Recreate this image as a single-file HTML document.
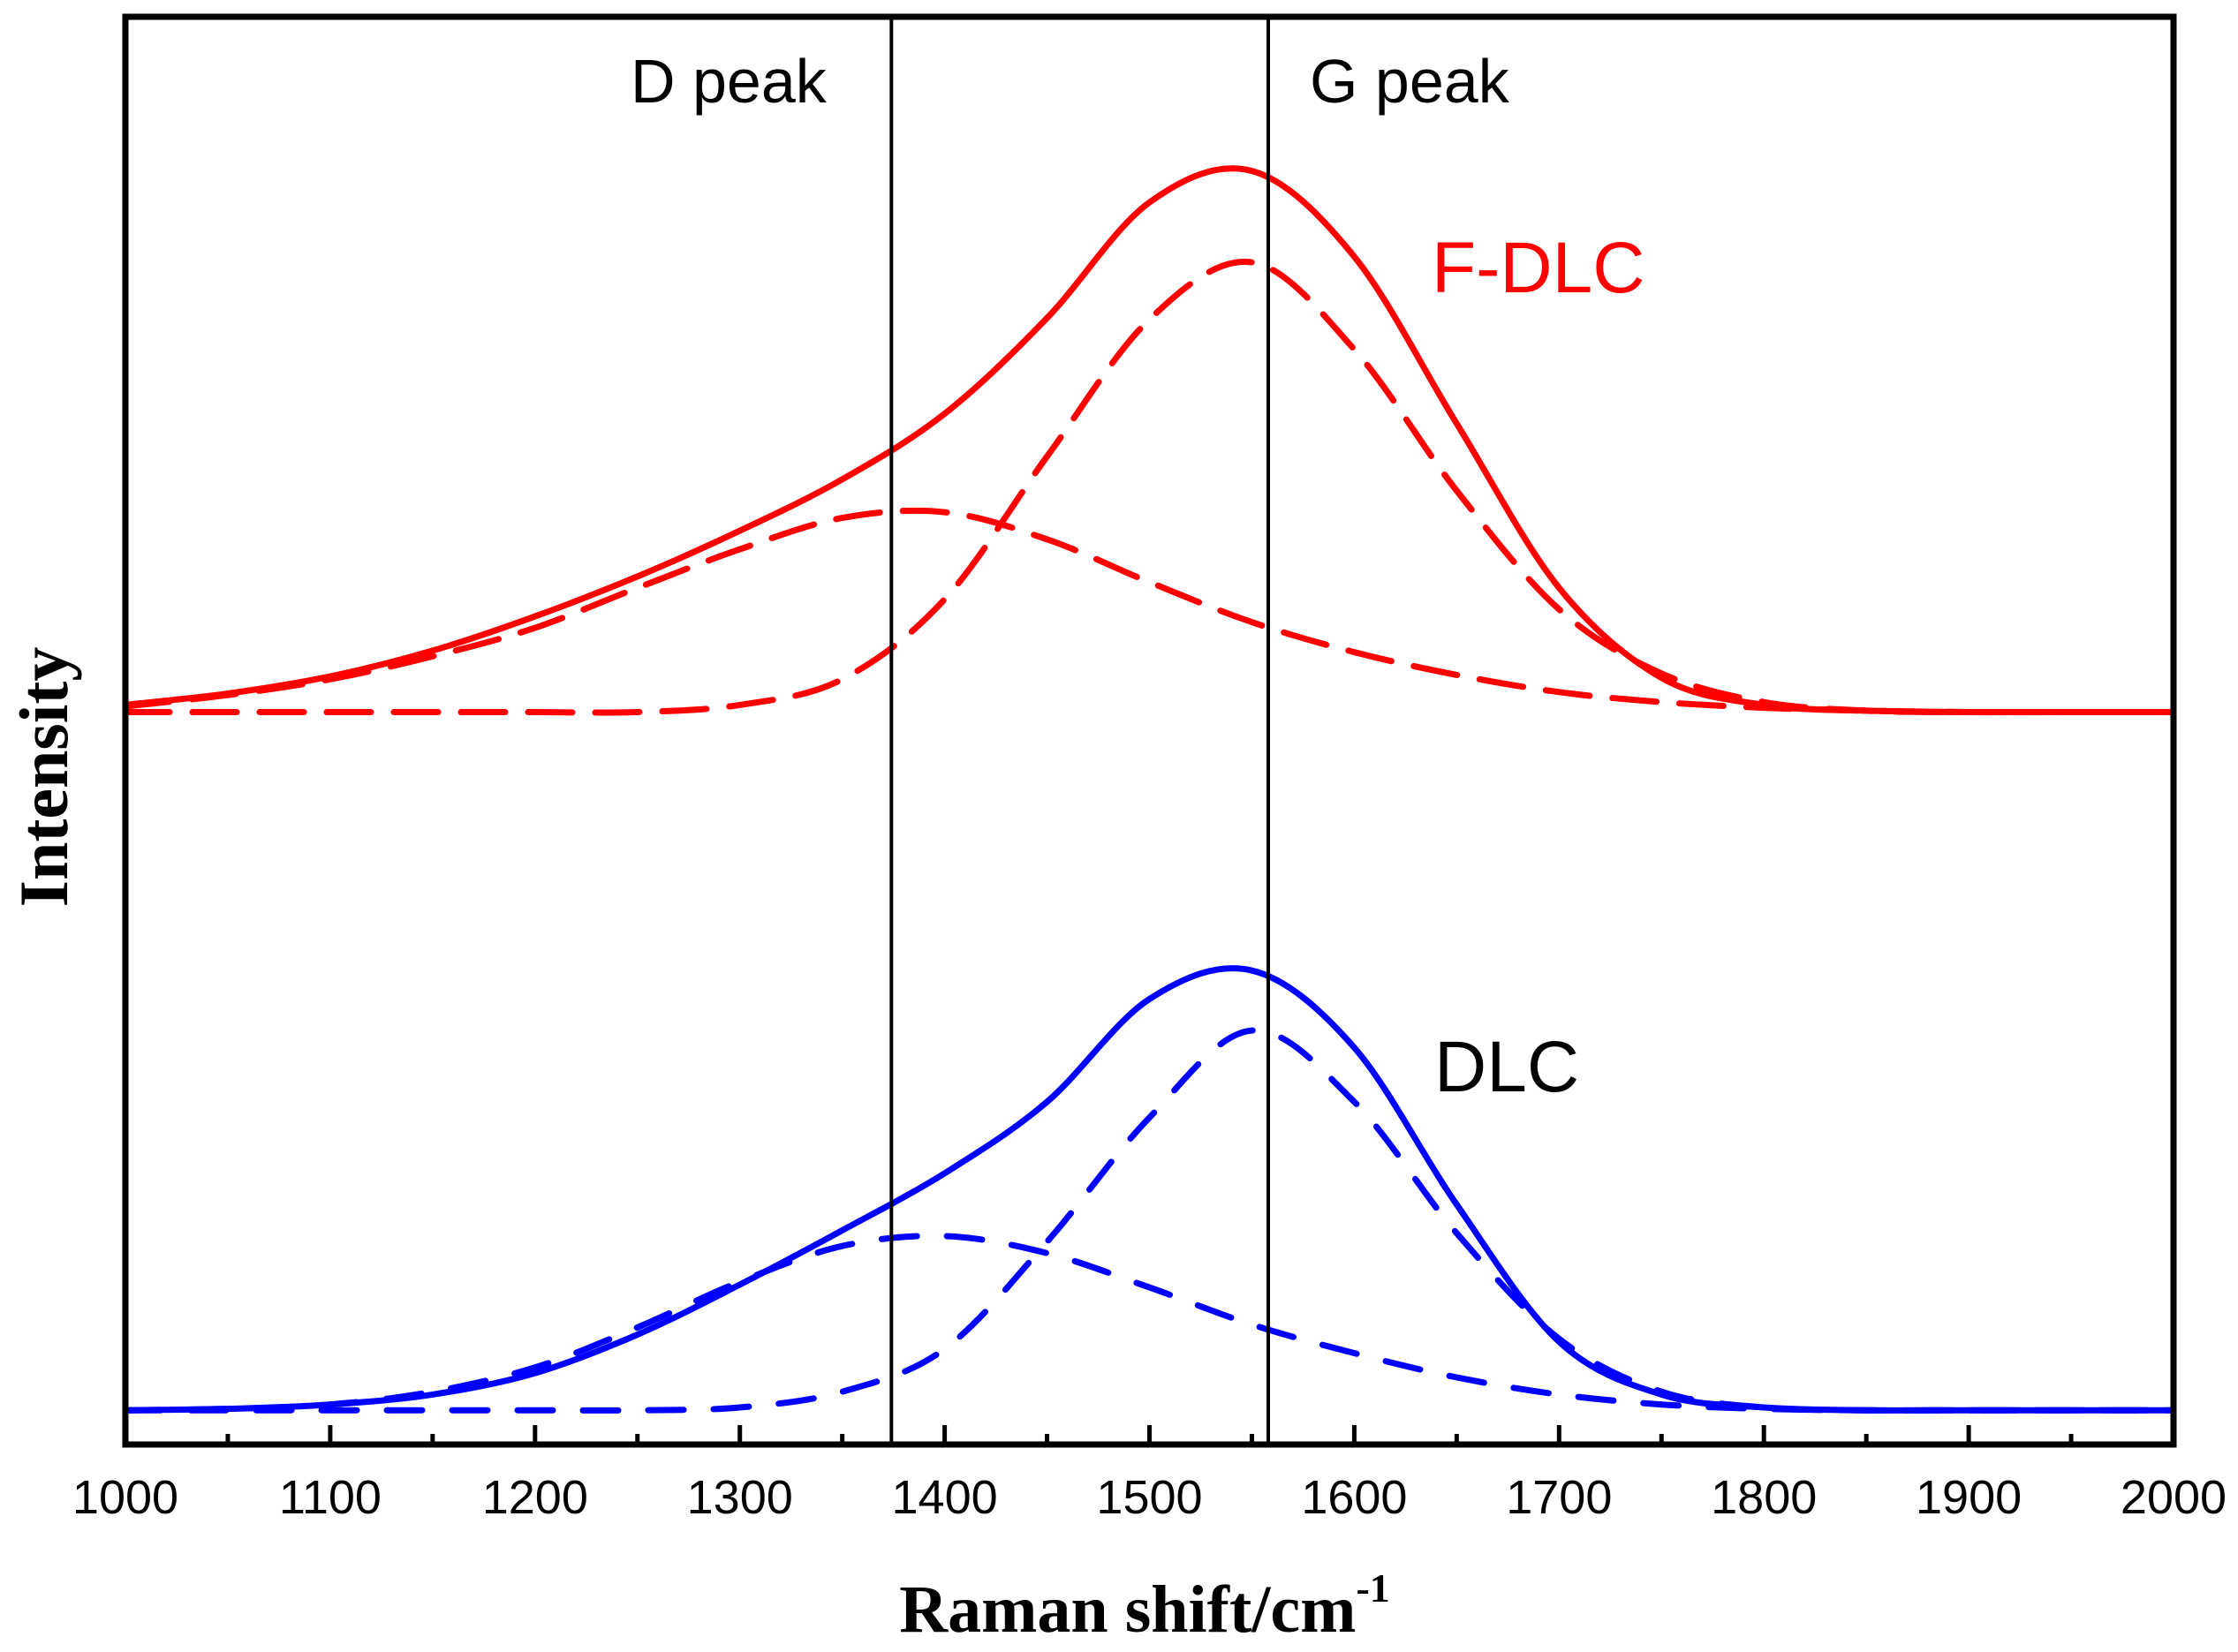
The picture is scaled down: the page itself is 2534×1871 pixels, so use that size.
<!DOCTYPE html>
<html><head><meta charset="utf-8"><style>html,body{margin:0;padding:0;background:#fff}svg{display:block}</style></head>
<body>
<svg id="chart" width="2534" height="1871" viewBox="0 0 2534 1871" xmlns="http://www.w3.org/2000/svg">
<rect x="0" y="0" width="2534" height="1871" fill="#fff"/>
<g id="marks"></g>
<g id="axes"></g>
</svg>
<script>
const xTicks = [1000,1100,1200,1300,1400,1500,1600,1700,1800,1900,2000];
const refLines = [1374, 1558];
const shifts = [1000,1050,1100,1150,1200,1250,1300,1350,1400,1450,1500,1550,1600,1650,1700,1750,1800,1850,1900,1950,2000];
const redSolid = [51.8,52.6,53.8,55.6,58.0,60.8,64.0,67.6,72.2,78.9,87.0,89.2,83.2,71.5,60.0,53.7,51.8,51.4,51.3,51.3,51.3];
const redD     = [51.7,52.5,53.6,55.2,57.2,60.0,62.7,64.9,65.3,63.4,60.4,57.6,55.5,53.9,52.7,52.0,51.6,51.4,51.3,51.3,51.3];
const redG     = [51.3,51.3,51.3,51.3,51.3,51.3,51.8,53.6,59.2,69.2,78.8,82.8,76.7,66.8,58.5,54.0,52.0,51.4,51.3,51.3,51.3];
const blueSolid= [2.4,2.5,2.8,3.5,5.0,7.7,11.2,15.0,19.0,24.0,31.2,33.2,27.8,16.8,7.2,3.5,2.6,2.4,2.4,2.4,2.4];
const blueD    = [2.4,2.5,2.8,3.7,5.4,8.2,11.4,13.9,14.6,13.4,11.0,8.4,6.4,4.7,3.5,2.8,2.5,2.4,2.4,2.4,2.4];
const blueG    = [2.4,2.4,2.4,2.4,2.4,2.4,2.6,3.7,6.7,14.2,22.9,29.0,24.0,14.8,7.4,3.7,2.6,2.4,2.4,2.4,2.4];

const L=142,R=2461,T=19,B=1636;
const sx = v => L + (v-1000)/1000*(R-L);
const sy = v => T + (100-v)/100*(B-T);
const NS='http://www.w3.org/2000/svg';
const marks=document.getElementById('marks'), axes=document.getElementById('axes');
function mk(tag,attrs,parent){const e=document.createElementNS(NS,tag);for(const k in attrs)e.setAttribute(k,attrs[k]);parent.appendChild(e);return e;}
function pathD(xs,ys){
  const p=xs.map((x,i)=>[sx(x),sy(ys[i])]);
  let d='M'+p[0][0].toFixed(1)+','+p[0][1].toFixed(1);
  for(let i=0;i<p.length-1;i++){
    const p0=p[Math.max(0,i-1)],p1=p[i],p2=p[i+1],p3=p[Math.min(p.length-1,i+2)];
    const c1=[p1[0]+(p2[0]-p0[0])/6,p1[1]+(p2[1]-p0[1])/6];
    const c2=[p2[0]-(p3[0]-p1[0])/6,p2[1]-(p3[1]-p1[1])/6];
    d+=' C'+c1[0].toFixed(1)+','+c1[1].toFixed(1)+' '+c2[0].toFixed(1)+','+c2[1].toFixed(1)+' '+p2[0].toFixed(1)+','+p2[1].toFixed(1);
  }
  return d;
}
const series=[
 ['red-d-band-fit',redD,'#ff0000','50 26'],
 ['red-g-band-fit',redG,'#ff0000','50 26'],
 ['blue-d-band-fit',blueD,'#0000ff','40 34'],
 ['blue-g-band-fit',blueG,'#0000ff','40 34'],
 ['f-dlc-spectrum',redSolid,'#ff0000',null],
 ['dlc-spectrum',blueSolid,'#0000ff',null]
];
series.forEach(s=>{
  const e=mk('path',{d:pathD(shifts,s[1]),fill:'none',stroke:s[2],'stroke-width':7,'stroke-linecap':s[3]?'round':'butt'},marks);
  if(s[3]) e.setAttribute('stroke-dasharray',s[3]);
  
  
});
refLines.forEach((v,i)=>{
  const e=mk('line',{x1:sx(v),x2:sx(v),y1:T,y2:B,stroke:'#000','stroke-width':4},axes);
  
  
});
const frame=mk('rect',{x:L,y:T,width:R-L,height:B-T,fill:'none',stroke:'#000','stroke-width':7},axes);


for(let v=1000;v<=2000;v+=50){
  const major=(v%100===0);
  const t=mk('line',{x1:sx(v),x2:sx(v),y1:B,y2:B-(major?22:12),stroke:'#000','stroke-width':5},axes);
  
  
}
xTicks.forEach(v=>{
  const t=mk('text',{x:sx(v),y:1714,'text-anchor':'middle','font-family':'Liberation Sans, sans-serif','font-size':54},axes);
  t.textContent=v;
  
  
});
function label(txt,x,y,size,opts,name){
  const t=mk('text',Object.assign({x:x,y:y,'font-size':size,'font-family':'Liberation Sans, sans-serif'},opts||{}),axes);
  t.textContent=txt;
  
  
  return t;
}
label('D peak',714,116,70,{},'d-peak-label');
label('G peak',1483,116,70,{},'g-peak-label');
label('F-DLC',1621,331,82,{fill:'#ff0000'},'f-dlc-label');
label('DLC',1624,1236,82,{},'dlc-label');
const xt=mk('text',{x:1296,y:1848,'text-anchor':'middle','font-family':'Liberation Serif, serif','font-weight':'bold','font-size':76},axes);
xt.innerHTML='Raman shift/cm<tspan font-size="46" dy="-34">-1</tspan>';


const yt=mk('text',{x:0,y:0,transform:'translate(76,880) rotate(-90)','text-anchor':'middle','font-family':'Liberation Serif, serif','font-weight':'bold','font-size':78},axes);
yt.textContent='Intensity';


</script>
</body></html>
